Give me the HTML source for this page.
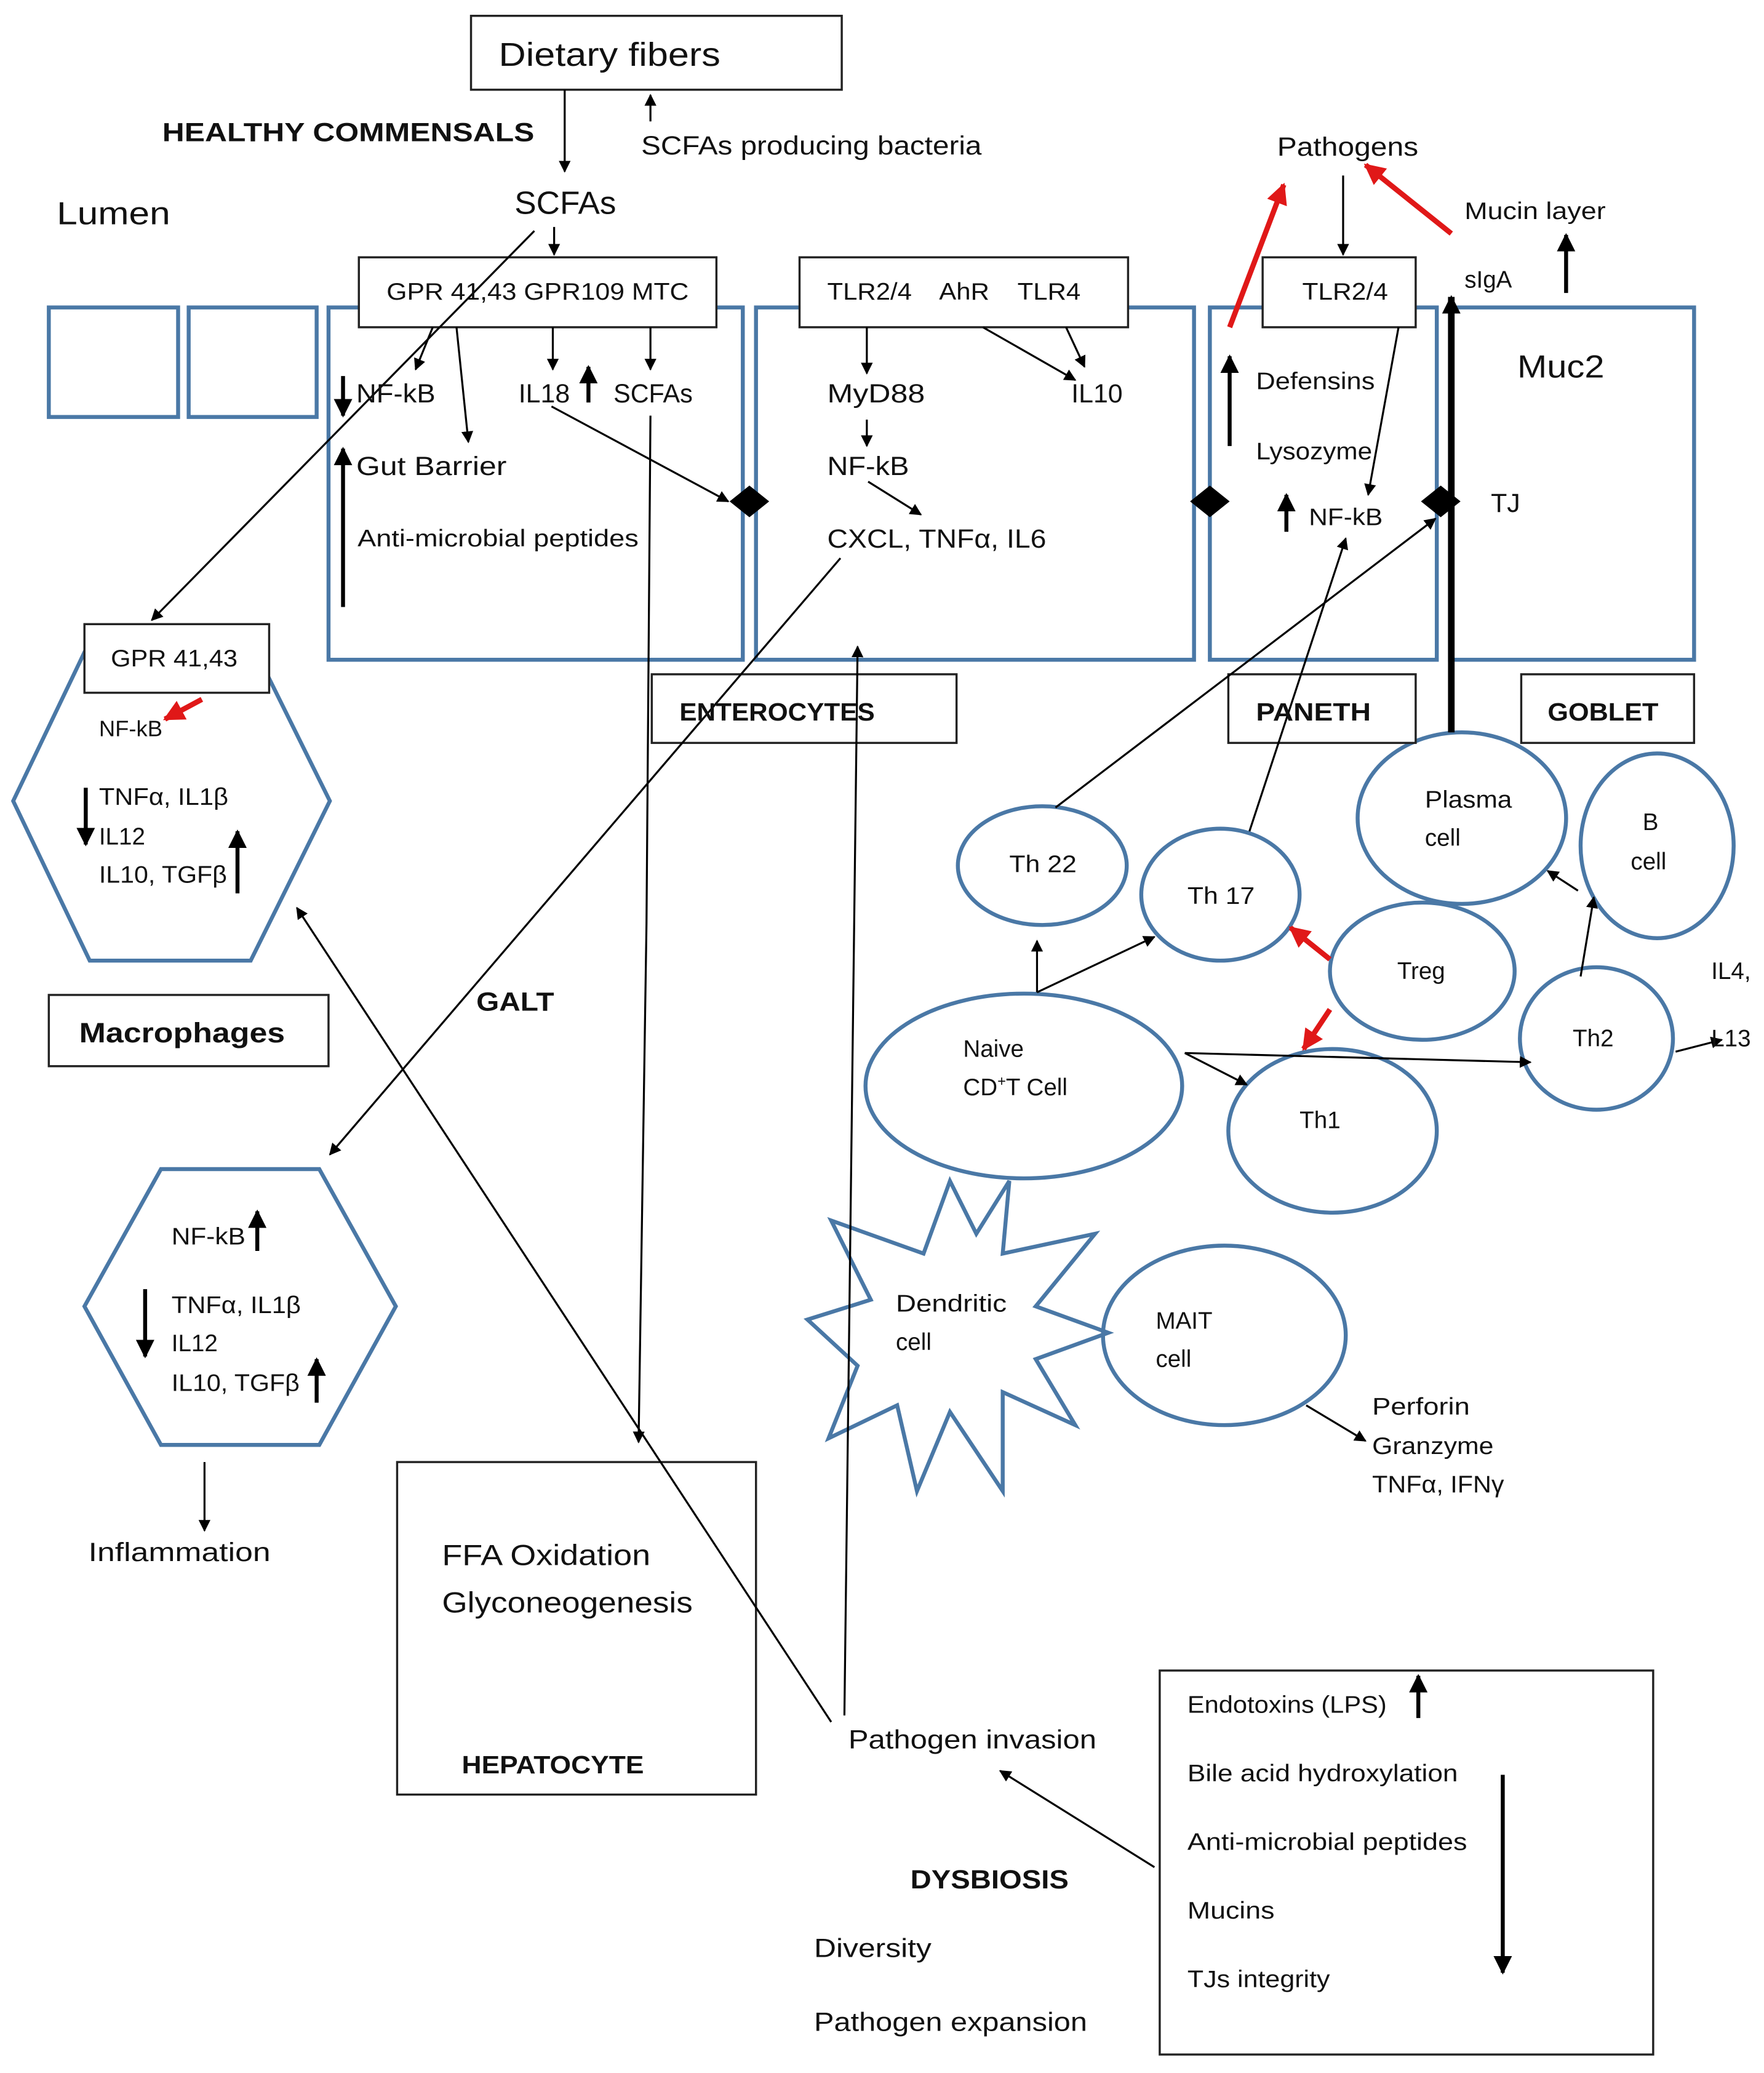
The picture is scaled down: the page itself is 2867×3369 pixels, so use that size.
<!DOCTYPE html>
<html><head><meta charset="utf-8"><style>
html,body{margin:0;padding:0;background:#fff}
svg{display:block}
text{font-family:"Liberation Sans","DejaVu Sans",sans-serif;fill:#111}
.b{font-weight:bold}
</style></head><body>
<svg width="2867" height="3369" viewBox="0 0 1337 1571" preserveAspectRatio="none" xmlns="http://www.w3.org/2000/svg">
<defs>
<marker id="a" viewBox="0 0 10 10" refX="9" refY="5" markerWidth="9" markerHeight="9" orient="auto-start-reverse" markerUnits="userSpaceOnUse"><path d="M0,0L10,5L0,10z" fill="#000"/></marker>
<marker id="ab" viewBox="0 0 10 10" refX="9" refY="5" markerWidth="14" markerHeight="14" orient="auto" markerUnits="userSpaceOnUse"><path d="M0,0L10,5L0,10z" fill="#000"/></marker>
<marker id="r" viewBox="0 0 10 10" refX="9" refY="5" markerWidth="16" markerHeight="16" orient="auto" markerUnits="userSpaceOnUse"><path d="M0,0L10,5L0,10z" fill="#e01818"/></marker>
</defs>
<g fill="none" stroke="#4a78a6" stroke-width="3">
<rect x="37" y="233" width="98" height="83"/>
<rect x="143" y="233" width="97" height="83"/>
<rect x="249" y="233" width="314" height="267"/>
<rect x="573" y="233" width="332" height="267"/>
<rect x="917" y="233" width="172" height="267"/>
<rect x="1099" y="233" width="185" height="267"/>
<polygon points="10,607 68,486 190,486 250,607 190,728 68,728"/>
<polygon points="64,990 122,886 242,886 300,990 242,1095 122,1095"/>
<ellipse cx="790" cy="656" rx="64" ry="45"/>
<ellipse cx="925" cy="678" rx="60" ry="50"/>
<ellipse cx="1108" cy="620" rx="79" ry="65"/>
<ellipse cx="1256" cy="641" rx="58" ry="70"/>
<ellipse cx="1078" cy="736" rx="70" ry="52"/>
<ellipse cx="776" cy="823" rx="120" ry="70"/>
<ellipse cx="1010" cy="857" rx="79" ry="62"/>
<ellipse cx="1210" cy="787" rx="58" ry="54"/>
<ellipse cx="928" cy="1012" rx="92" ry="68"/>
<polygon points="765,895 760,950 830,935 785,990 840,1010 785,1030 815,1080 760,1055 760,1130 720,1070 695,1130 680,1065 628,1090 650,1035 612,1000 660,985 630,925 700,950 720,895 740,935"/>
</g>
<g fill="#fff" stroke="#222" stroke-width="1.6">
<rect x="357" y="12" width="281" height="56"/>
<rect x="272" y="195" width="271" height="53"/>
<rect x="606" y="195" width="249" height="53"/>
<rect x="957" y="195" width="116" height="53"/>
<rect x="64" y="473" width="140" height="52"/>
<rect x="37" y="754" width="212" height="54"/>
<rect x="494" y="511" width="231" height="52"/>
<rect x="931" y="511" width="142" height="52"/>
<rect x="1153" y="511" width="131" height="52"/>
<rect x="301" y="1108" width="272" height="252"/>
<rect x="879" y="1266" width="374" height="291"/>
</g>
<g stroke="#000" stroke-width="1.5" fill="none" marker-end="url(#a)">
<line x1="428" y1="68" x2="428" y2="130"/>
<line x1="493" y1="92" x2="493" y2="72"/>
<line x1="420" y1="172" x2="420" y2="193"/>
<line x1="405" y1="175" x2="115" y2="470"/>
<line x1="328" y1="248" x2="315" y2="280"/>
<line x1="346" y1="248" x2="355" y2="335"/>
<line x1="419" y1="248" x2="419" y2="280"/>
<line x1="493" y1="248" x2="493" y2="280"/>
<line x1="418" y1="308" x2="552" y2="380"/>
<polyline points="493,315 490,700 484,1093"/>
<line x1="657" y1="248" x2="657" y2="283"/>
<line x1="657" y1="318" x2="657" y2="338"/>
<line x1="658" y1="365" x2="698" y2="390"/>
<line x1="745" y1="248" x2="815" y2="288"/>
<line x1="808" y1="248" x2="822" y2="278"/>
<line x1="1018" y1="133" x2="1018" y2="193"/>
<line x1="1060" y1="248" x2="1037" y2="375"/>
<line x1="637" y1="423" x2="250" y2="875"/>
<line x1="640" y1="1300" x2="650" y2="490"/>
<line x1="630" y1="1305" x2="225" y2="688"/>
<line x1="875" y1="1415" x2="758" y2="1342"/>
<line x1="155" y1="1108" x2="155" y2="1160"/>
<line x1="800" y1="612" x2="1088" y2="393"/>
<line x1="947" y1="630" x2="1020" y2="408"/>
<line x1="786" y1="752" x2="786" y2="713"/>
<line x1="786" y1="752" x2="875" y2="710"/>
<line x1="898" y1="798" x2="945" y2="822"/>
<line x1="898" y1="798" x2="1160" y2="805"/>
<line x1="1198" y1="740" x2="1208" y2="680"/>
<line x1="1196" y1="675" x2="1173" y2="660"/>
<line x1="1270" y1="797" x2="1305" y2="788"/>
<line x1="990" y1="1065" x2="1035" y2="1092"/>
</g>
<g stroke="#000" stroke-width="3" fill="none" marker-end="url(#ab)">
<line x1="260" y1="285" x2="260" y2="315"/>
<line x1="260" y1="460" x2="260" y2="340"/>
<line x1="446" y1="305" x2="446" y2="278"/>
<line x1="932" y1="338" x2="932" y2="270"/>
<line x1="975" y1="403" x2="975" y2="375"/>
<line x1="1187" y1="222" x2="1187" y2="178"/>
<line x1="65" y1="597" x2="65" y2="640"/>
<line x1="180" y1="677" x2="180" y2="630"/>
<line x1="195" y1="948" x2="195" y2="918"/>
<line x1="110" y1="977" x2="110" y2="1028"/>
<line x1="240" y1="1063" x2="240" y2="1030"/>
<line x1="1075" y1="1302" x2="1075" y2="1270"/>
<line x1="1139" y1="1345" x2="1139" y2="1495"/>
</g>
<line x1="1100" y1="555" x2="1100" y2="225" stroke="#000" stroke-width="5" marker-end="url(#ab)"/>
<g stroke="#e01818" stroke-width="4" fill="none" marker-end="url(#r)">
<line x1="932" y1="248" x2="973" y2="140"/>
<line x1="1100" y1="177" x2="1035" y2="125"/>
<line x1="153" y1="530" x2="125" y2="545"/>
<line x1="1008" y1="727" x2="978" y2="703"/>
<line x1="1008" y1="765" x2="988" y2="795"/>
</g>
<g fill="#000">
<polygon points="568,368 583,380 568,392 553,380"/>
<polygon points="917,368 932,380 917,392 902,380"/>
<polygon points="1092,368 1107,380 1092,392 1077,380"/>
</g>
<g>
<text x="378" y="50" font-size="25" textLength="168" lengthAdjust="spacingAndGlyphs">Dietary fibers</text>
<text x="123" y="107" font-size="20" class="b" textLength="282" lengthAdjust="spacingAndGlyphs">HEALTHY COMMENSALS</text>
<text x="486" y="117" font-size="20" textLength="258" lengthAdjust="spacingAndGlyphs">SCFAs producing bacteria</text>
<text x="43" y="170" font-size="24" textLength="86" lengthAdjust="spacingAndGlyphs">Lumen</text>
<text x="390" y="162" font-size="24" textLength="77" lengthAdjust="spacingAndGlyphs">SCFAs</text>
<text x="293" y="227" font-size="18" textLength="229" lengthAdjust="spacingAndGlyphs">GPR 41,43 GPR109   MTC</text>
<text x="627" y="227" font-size="18" xml:space="preserve" textLength="192" lengthAdjust="spacingAndGlyphs">TLR2/4    AhR    TLR4</text>
<text x="987" y="227" font-size="18" textLength="65" lengthAdjust="spacingAndGlyphs">TLR2/4</text>
<text x="968" y="118" font-size="20" textLength="107" lengthAdjust="spacingAndGlyphs">Pathogens</text>
<text x="1110" y="166" font-size="18" textLength="107" lengthAdjust="spacingAndGlyphs">Mucin layer</text>
<text x="1110" y="218" font-size="18">sIgA</text>
<text x="1150" y="286" font-size="24" textLength="66" lengthAdjust="spacingAndGlyphs">Muc2</text>
<text x="270" y="305" font-size="20" textLength="60" lengthAdjust="spacingAndGlyphs">NF-kB</text>
<text x="393" y="305" font-size="20">IL18</text>
<text x="465" y="305" font-size="20" textLength="60" lengthAdjust="spacingAndGlyphs">SCFAs</text>
<text x="270" y="360" font-size="20" textLength="114" lengthAdjust="spacingAndGlyphs">Gut Barrier</text>
<text x="271" y="414" font-size="18" textLength="213" lengthAdjust="spacingAndGlyphs">Anti-microbial peptides</text>
<text x="627" y="305" font-size="20" textLength="74" lengthAdjust="spacingAndGlyphs">MyD88</text>
<text x="627" y="360" font-size="20" textLength="62" lengthAdjust="spacingAndGlyphs">NF-kB</text>
<text x="627" y="415" font-size="20" textLength="166" lengthAdjust="spacingAndGlyphs">CXCL, TNFα,  IL6</text>
<text x="812" y="305" font-size="20">IL10</text>
<text x="952" y="295" font-size="18" textLength="90" lengthAdjust="spacingAndGlyphs">Defensins</text>
<text x="952" y="348" font-size="18" textLength="88" lengthAdjust="spacingAndGlyphs">Lysozyme</text>
<text x="992" y="398" font-size="18" textLength="56" lengthAdjust="spacingAndGlyphs">NF-kB</text>
<text x="1130" y="388" font-size="20">TJ</text>
<text x="84" y="505" font-size="18" textLength="96" lengthAdjust="spacingAndGlyphs">GPR 41,43</text>
<text x="75" y="558" font-size="17">NF-kB</text>
<text x="75" y="610" font-size="18" textLength="98" lengthAdjust="spacingAndGlyphs">TNFα, IL1β</text>
<text x="75" y="640" font-size="18">IL12</text>
<text x="75" y="669" font-size="18" textLength="97" lengthAdjust="spacingAndGlyphs">IL10, TGFβ</text>
<text x="60" y="790" font-size="21" class="b" textLength="156" lengthAdjust="spacingAndGlyphs">Macrophages</text>
<text x="515" y="546" font-size="19" class="b" textLength="148" lengthAdjust="spacingAndGlyphs">ENTEROCYTES</text>
<text x="952" y="546" font-size="19" class="b" textLength="87" lengthAdjust="spacingAndGlyphs">PANETH</text>
<text x="1173" y="546" font-size="19" class="b" textLength="84" lengthAdjust="spacingAndGlyphs">GOBLET</text>
<text x="361" y="766" font-size="20" class="b" textLength="59" lengthAdjust="spacingAndGlyphs">GALT</text>
<text x="130" y="943" font-size="18" textLength="56" lengthAdjust="spacingAndGlyphs">NF-kB</text>
<text x="130" y="995" font-size="18" textLength="98" lengthAdjust="spacingAndGlyphs">TNFα, IL1β</text>
<text x="130" y="1024" font-size="18">IL12</text>
<text x="130" y="1054" font-size="18" textLength="97" lengthAdjust="spacingAndGlyphs">IL10, TGFβ</text>
<text x="67" y="1183" font-size="20" textLength="138" lengthAdjust="spacingAndGlyphs">Inflammation</text>
<text x="335" y="1186" font-size="22" textLength="158" lengthAdjust="spacingAndGlyphs">FFA Oxidation</text>
<text x="335" y="1222" font-size="22" textLength="190" lengthAdjust="spacingAndGlyphs">Glyconeogenesis</text>
<text x="350" y="1344" font-size="19" class="b" textLength="138" lengthAdjust="spacingAndGlyphs">HEPATOCYTE</text>
<text x="643" y="1325" font-size="20" textLength="188" lengthAdjust="spacingAndGlyphs">Pathogen invasion</text>
<text x="690" y="1431" font-size="20" class="b" textLength="120" lengthAdjust="spacingAndGlyphs">DYSBIOSIS</text>
<text x="617" y="1483" font-size="20" textLength="89" lengthAdjust="spacingAndGlyphs">Diversity</text>
<text x="617" y="1539" font-size="20" textLength="207" lengthAdjust="spacingAndGlyphs">Pathogen expansion</text>
<text x="900" y="1298" font-size="18" textLength="151" lengthAdjust="spacingAndGlyphs">Endotoxins (LPS)</text>
<text x="900" y="1350" font-size="18" textLength="205" lengthAdjust="spacingAndGlyphs">Bile acid hydroxylation</text>
<text x="900" y="1402" font-size="18" textLength="212" lengthAdjust="spacingAndGlyphs">Anti-microbial peptides</text>
<text x="900" y="1454" font-size="18" textLength="66" lengthAdjust="spacingAndGlyphs">Mucins</text>
<text x="900" y="1506" font-size="18" textLength="108" lengthAdjust="spacingAndGlyphs">TJs integrity</text>
<text x="765" y="661" font-size="18" textLength="51" lengthAdjust="spacingAndGlyphs">Th 22</text>
<text x="900" y="685" font-size="18" textLength="51" lengthAdjust="spacingAndGlyphs">Th 17</text>
<text x="1080" y="612" font-size="18" textLength="66" lengthAdjust="spacingAndGlyphs">Plasma</text>
<text x="1080" y="641" font-size="18">cell</text>
<text x="1245" y="629" font-size="18">B</text>
<text x="1236" y="659" font-size="18">cell</text>
<text x="1059" y="742" font-size="18">Treg</text>
<text x="730" y="801" font-size="18">Naive</text>
<text x="730" y="830" font-size="18">CD<tspan font-size="11" dy="-7">+</tspan><tspan dy="7">T Cell</tspan></text>
<text x="985" y="855" font-size="18">Th1</text>
<text x="1192" y="793" font-size="18">Th2</text>
<text x="1297" y="742" font-size="18">IL4,</text>
<text x="1297" y="793" font-size="18">L13</text>
<text x="679" y="994" font-size="18" textLength="84" lengthAdjust="spacingAndGlyphs">Dendritic</text>
<text x="679" y="1023" font-size="18">cell</text>
<text x="876" y="1007" font-size="18">MAIT</text>
<text x="876" y="1036" font-size="18">cell</text>
<text x="1040" y="1072" font-size="18" textLength="74" lengthAdjust="spacingAndGlyphs">Perforin</text>
<text x="1040" y="1102" font-size="18" textLength="92" lengthAdjust="spacingAndGlyphs">Granzyme</text>
<text x="1040" y="1131" font-size="18" textLength="100" lengthAdjust="spacingAndGlyphs">TNFα, IFNγ</text>
</g>
</svg>
</body></html>
